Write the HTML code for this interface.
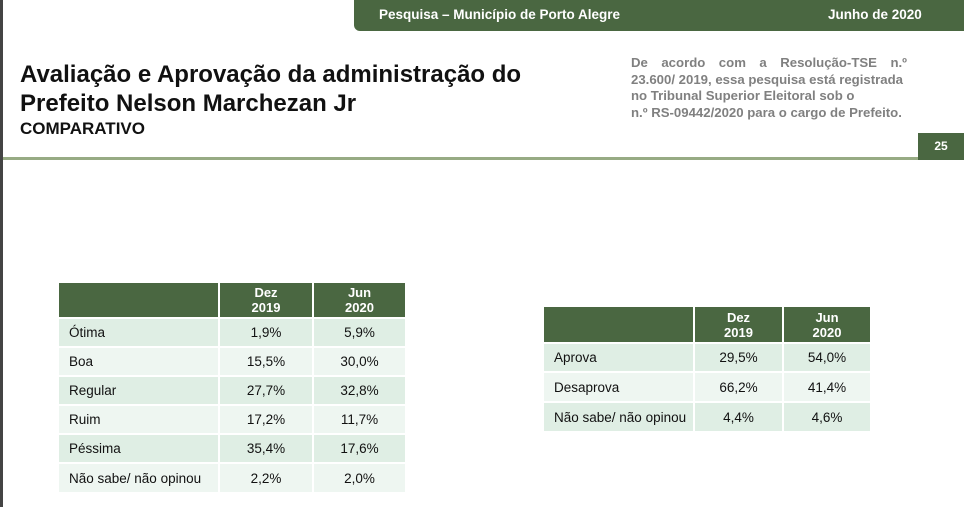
<!DOCTYPE html>
<html><head><meta charset="utf-8"><style>
body{margin:0;width:964px;height:507px;position:relative;overflow:hidden;background:#fff;font-family:"Liberation Sans",Arial,sans-serif}
.a{position:absolute}
table{position:absolute;border-collapse:collapse;font-size:13.5px;color:#111}
td,th{border:2px solid #fff;padding:0;box-sizing:border-box}
th{background:#4a6741;color:#fff;font-weight:bold;line-height:15px;text-align:center;font-size:13px}
td{text-align:center}
td.l{text-align:left;padding-left:10px}
tr.o td{background:#dfeee4}
tr.e td{background:#eef6f1}
</style></head><body>
<div class="a" style="left:0;top:0;width:3px;height:507px;background:#444"></div>
<div class="a" style="left:354px;top:0;width:610px;height:31px;background:#4a6741;border-bottom-left-radius:6px"></div>
<div class="a" style="left:379px;top:7px;color:#fff;font-weight:bold;font-size:13.5px">Pesquisa – Município de Porto Alegre</div>
<div class="a" style="left:828px;top:7px;color:#fff;font-weight:bold;font-size:13.5px">Junho de 2020</div>
<div class="a" style="left:20px;top:60px;font-weight:bold;font-size:24px;line-height:29px;color:#111">Avaliação e Aprovação da administração do<br>Prefeito Nelson Marchezan Jr</div>
<div class="a" style="left:20px;top:119px;font-weight:bold;font-size:17px;color:#111">COMPARATIVO</div>
<div class="a" style="left:631px;top:55px;width:276px;font-weight:bold;font-size:13.2px;line-height:16.5px;color:#808080;white-space:nowrap">
<div style="text-align:justify;text-align-last:justify">De acordo com a Resolução-TSE n.º</div>
<div>23.600/ 2019, essa pesquisa está registrada</div>
<div>no Tribunal Superior Eleitoral sob o</div>
<div>n.º RS-09442/2020 para o cargo de Prefeito.</div>
</div>
<div class="a" style="left:3px;top:157px;width:915px;height:3px;background:#97ab84"></div>
<div class="a" style="left:918px;top:133px;width:46px;height:27px;background:#4a6741;color:#fff;font-weight:bold;font-size:12px;line-height:27px;text-align:center">25</div>

<table style="left:57px;top:281px;width:350px">
<tr style="height:36px"><th style="width:161px"></th><th style="width:94px">Dez<br>2019</th><th>Jun<br>2020</th></tr>
<tr class="o" style="height:29px"><td class="l">Ótima</td><td>1,9%</td><td>5,9%</td></tr>
<tr class="e" style="height:29px"><td class="l">Boa</td><td>15,5%</td><td>30,0%</td></tr>
<tr class="o" style="height:29px"><td class="l">Regular</td><td>27,7%</td><td>32,8%</td></tr>
<tr class="e" style="height:29px"><td class="l">Ruim</td><td>17,2%</td><td>11,7%</td></tr>
<tr class="o" style="height:29px"><td class="l">Péssima</td><td>35,4%</td><td>17,6%</td></tr>
<tr class="e" style="height:30px"><td class="l">Não sabe/ não opinou</td><td>2,2%</td><td>2,0%</td></tr>
</table>

<table style="left:542px;top:305px;width:330px">
<tr style="height:37px"><th style="width:151px"></th><th style="width:89px">Dez<br>2019</th><th>Jun<br>2020</th></tr>
<tr class="o" style="height:29px"><td class="l">Aprova</td><td>29,5%</td><td>54,0%</td></tr>
<tr class="e" style="height:30px"><td class="l">Desaprova</td><td>66,2%</td><td>41,4%</td></tr>
<tr class="o" style="height:30px"><td class="l">Não sabe/ não opinou</td><td>4,4%</td><td>4,6%</td></tr>
</table>
</body></html>
